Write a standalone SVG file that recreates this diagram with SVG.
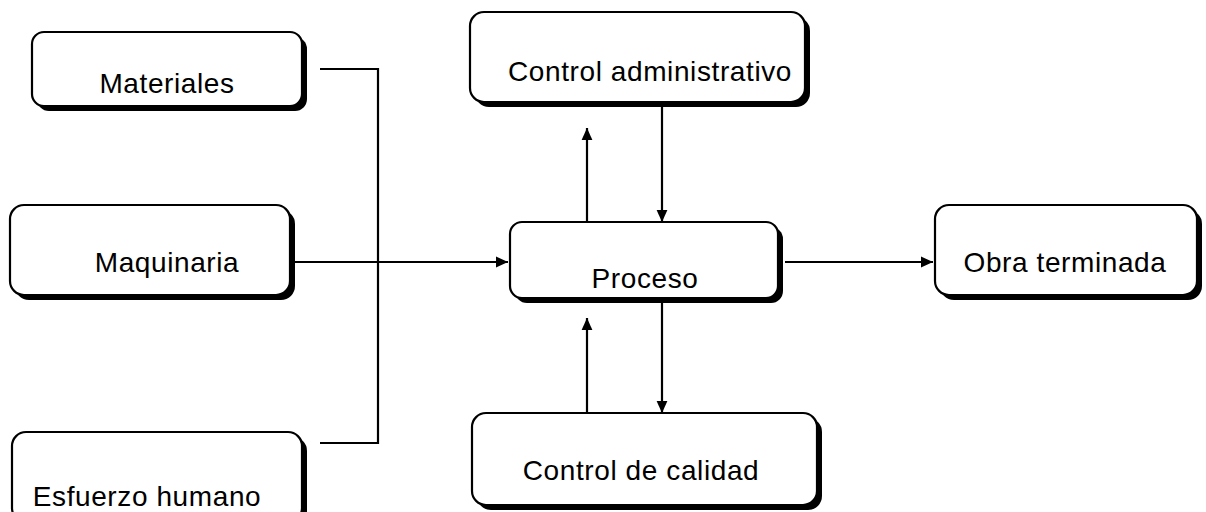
<svg xmlns="http://www.w3.org/2000/svg" width="1206" height="512" viewBox="0 0 1206 512">
<defs>
<style>
.sh{fill:#000;}
.bx{fill:#fff;stroke:#000;stroke-width:2.2;}
.t{font-family:"Liberation Sans",Arial,sans-serif;font-size:28px;letter-spacing:0.6px;fill:#000;text-anchor:middle;}
.c{fill:none;stroke:#000;stroke-width:2.2;}
</style>
<marker id="ah" viewBox="0 0 10 10" refX="10" refY="5" markerWidth="5.5" markerHeight="5.5" markerUnits="strokeWidth" orient="auto">
<path d="M0,0.5 L10,5 L0,9.5 z" fill="#000"/>
</marker>
</defs>
<rect width="1206" height="512" fill="#fff"/>
<g id="connectors">
<path class="c" d="M320 69 H378 V443 H320"/>
<path class="c" d="M292 262 H508" marker-end="url(#ah)"/>
<path class="c" d="M785 262 H933" marker-end="url(#ah)"/>
<path class="c" d="M587 222 V128" marker-end="url(#ah)"/>
<path class="c" d="M662 104 V222" marker-end="url(#ah)"/>
<path class="c" d="M662 302 V413" marker-end="url(#ah)"/>
<path class="c" d="M587 413 V318" marker-end="url(#ah)"/>
</g>
<g id="materiales">
<rect class="sh" x="37" y="37" width="270" height="74" rx="12"/>
<rect class="bx" x="32" y="32" width="270" height="74" rx="12"/>
<text class="t" x="167" y="93">Materiales</text>
</g>
<g id="maquinaria">
<rect class="sh" x="15" y="210" width="280" height="90" rx="14"/>
<rect class="bx" x="10" y="205" width="280" height="90" rx="14"/>
<text class="t" x="167" y="272">Maquinaria</text>
</g>
<g id="esfuerzo">
<rect class="sh" x="17" y="437" width="290" height="90" rx="14"/>
<rect class="bx" x="12" y="432" width="290" height="90" rx="14"/>
<text class="t" x="147" y="506">Esfuerzo humano</text>
</g>
<g id="control-admin">
<rect class="sh" x="475" y="17" width="335" height="90" rx="14"/>
<rect class="bx" x="470" y="12" width="335" height="90" rx="14"/>
<text class="t" x="650" y="81">Control administrativo</text>
</g>
<g id="proceso">
<rect class="sh" x="515" y="227" width="268" height="76" rx="12"/>
<rect class="bx" x="510" y="222" width="268" height="76" rx="12"/>
<text class="t" x="645" y="288">Proceso</text>
</g>
<g id="control-calidad">
<rect class="sh" x="477" y="418" width="345" height="92" rx="14"/>
<rect class="bx" x="472" y="413" width="345" height="92" rx="14"/>
<text class="t" x="641" y="480">Control de calidad</text>
</g>
<g id="obra">
<rect class="sh" x="940" y="210" width="262" height="90" rx="14"/>
<rect class="bx" x="935" y="205" width="262" height="90" rx="14"/>
<text class="t" x="1065" y="272">Obra terminada</text>
</g>
</svg>
